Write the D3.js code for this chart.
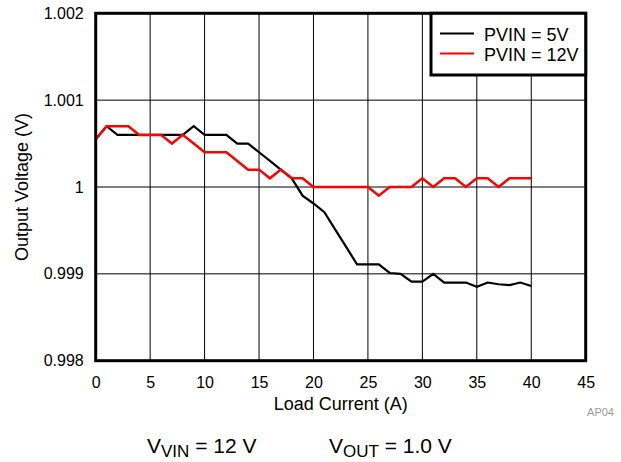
<!DOCTYPE html>
<html><head><meta charset="utf-8">
<script src="https://cdn.jsdelivr.net/npm/d3@7"></script>
<style>body{margin:0;background:#fff}svg{display:block}text{font-family:"Liberation Sans",Arial,sans-serif}</style>
</head><body>
<svg id="c" width="621" height="462"></svg>
<script>
const current = [0,1,2,3,4,5,6,7,8,9,10,11,12,13,14,15,16,17,18,19,20,21,22,23,24,25,26,27,28,29,30,31,32,33,34,35,36,37,38,39,40];
const pvin5 = [1.00055,1.0007,1.0006,1.0006,1.0006,1.0006,1.0006,1.0006,1.0006,1.0007,1.0006,1.0006,1.0006,1.0005,1.0005,1.0004,1.0003,1.0002,1.0001,0.9999,0.99981,0.99971,0.99951,0.99931,0.99911,0.99911,0.99911,0.99901,0.999,0.99891,0.99891,0.999,0.9989,0.9989,0.9989,0.99885,0.9989,0.99888,0.99887,0.9989,0.99886];
const pvin12 = [1.00055,1.0007,1.0007,1.0007,1.0006,1.0006,1.0006,1.0005,1.0006,1.0005,1.0004,1.0004,1.0004,1.0003,1.0002,1.0002,1.0001,1.0002,1.0001,1.0001,1.0,1.0,1.0,1.0,1.0,1.0,0.9999,1.0,1.0,1.0,1.0001,1.0,1.0001,1.0001,1.0,1.0001,1.0001,1.0,1.0001,1.0001,1.0001];
const xTicks = [0,5,10,15,20,25,30,35,40,45];
const yTicks = [0.998,0.999,1,1.001,1.002];
const yTickLabels = ["0.998","0.999","1","1.001","1.002"];
const seriesNames = ["PVIN = 5V","PVIN = 12V"];
const seriesColors = ["#000000","#ff0000"];

const svg = d3.select("#c");
const L=95.7, R=585.7, T=13.3, B=360.7;
const x = d3.scaleLinear().domain([0,45]).range([L,R]);
const y = d3.scaleLinear().domain([0.998,1.002]).range([B,T]);
const FF = "Liberation Sans, Arial, sans-serif";

// grid
const g = svg.append("g");
g.selectAll("line.vx").data(xTicks.slice(1,-1)).enter().append("line")
  .attr("x1",d=>x(d)).attr("x2",d=>x(d)).attr("y1",T).attr("y2",B)
  .attr("stroke","#000").attr("stroke-width",1);
g.selectAll("line.hy").data(yTicks.slice(1,-1)).enter().append("line")
  .attr("y1",d=>y(d)).attr("y2",d=>y(d)).attr("x1",L).attr("x2",R)
  .attr("stroke","#000").attr("stroke-width",1);

// axes labels via d3 axes (no lines)
const xa = svg.append("g").attr("transform",`translate(0,${B})`)
  .call(d3.axisBottom(x).tickValues(xTicks).tickSize(0).tickPadding(16));
xa.select(".domain").remove();
xa.selectAll("text").attr("font-size",16).attr("fill","#000").attr("font-family",FF);
const ya = svg.append("g").attr("transform",`translate(${L},0)`)
  .call(d3.axisLeft(y).tickValues(yTicks).tickFormat((d,i)=>yTickLabels[i]).tickSize(0).tickPadding(12));
ya.select(".domain").remove();
ya.selectAll("text").attr("font-size",16).attr("fill","#000").attr("font-family",FF);

// lines
const line = d3.line().x((d,i)=>x(current[i])).y(d=>y(d));
svg.append("path").datum(pvin5).attr("d",line).attr("fill","none").attr("stroke",seriesColors[0]).attr("stroke-width",2.2).attr("stroke-linejoin","miter");
svg.append("path").datum(pvin12).attr("d",line).attr("fill","none").attr("stroke",seriesColors[1]).attr("stroke-width",2.5).attr("stroke-linejoin","miter");

// frame
svg.append("rect").attr("x",L).attr("y",T).attr("width",R-L).attr("height",B-T)
  .attr("fill","none").attr("stroke","#000").attr("stroke-width",3);

// legend
const lg = svg.append("g");
lg.append("rect").attr("x",431).attr("y",T).attr("width",R-431).attr("height",75-T)
  .attr("fill","#fff").attr("stroke","#000").attr("stroke-width",3);
seriesNames.forEach((n,i)=>{
  const yy = 33.5 + i*20;
  lg.append("line").attr("x1",440).attr("x2",474).attr("y1",yy).attr("y2",yy).attr("stroke",seriesColors[i]).attr("stroke-width",2);
  lg.append("text").attr("x",484).attr("y",yy+7).attr("font-size",18).text(n);
});

// titles
svg.append("text").attr("x",(L+R)/2).attr("y",410).attr("text-anchor","middle").attr("font-size",18).text("Load Current (A)");
svg.append("text").attr("transform",`translate(28,${(T+B)/2}) rotate(-90)`).attr("text-anchor","middle").attr("font-size",18).text("Output Voltage (V)");
svg.append("text").attr("x",614).attr("y",415.5).attr("text-anchor","end").attr("font-size",11).attr("fill","#999").text("AP04");

const t1 = svg.append("text").attr("x",147).attr("y",453).attr("font-size",21);
t1.append("tspan").text("V");
t1.append("tspan").attr("dy",4).attr("font-size",17).text("VIN");
t1.append("tspan").attr("dy",-4).text(" = 12 V");
const t2 = svg.append("text").attr("x",329).attr("y",453).attr("font-size",21);
t2.append("tspan").text("V");
t2.append("tspan").attr("dy",4).attr("font-size",17).text("OUT");
t2.append("tspan").attr("dy",-4).text(" = 1.0 V");
</script>
</body></html>
